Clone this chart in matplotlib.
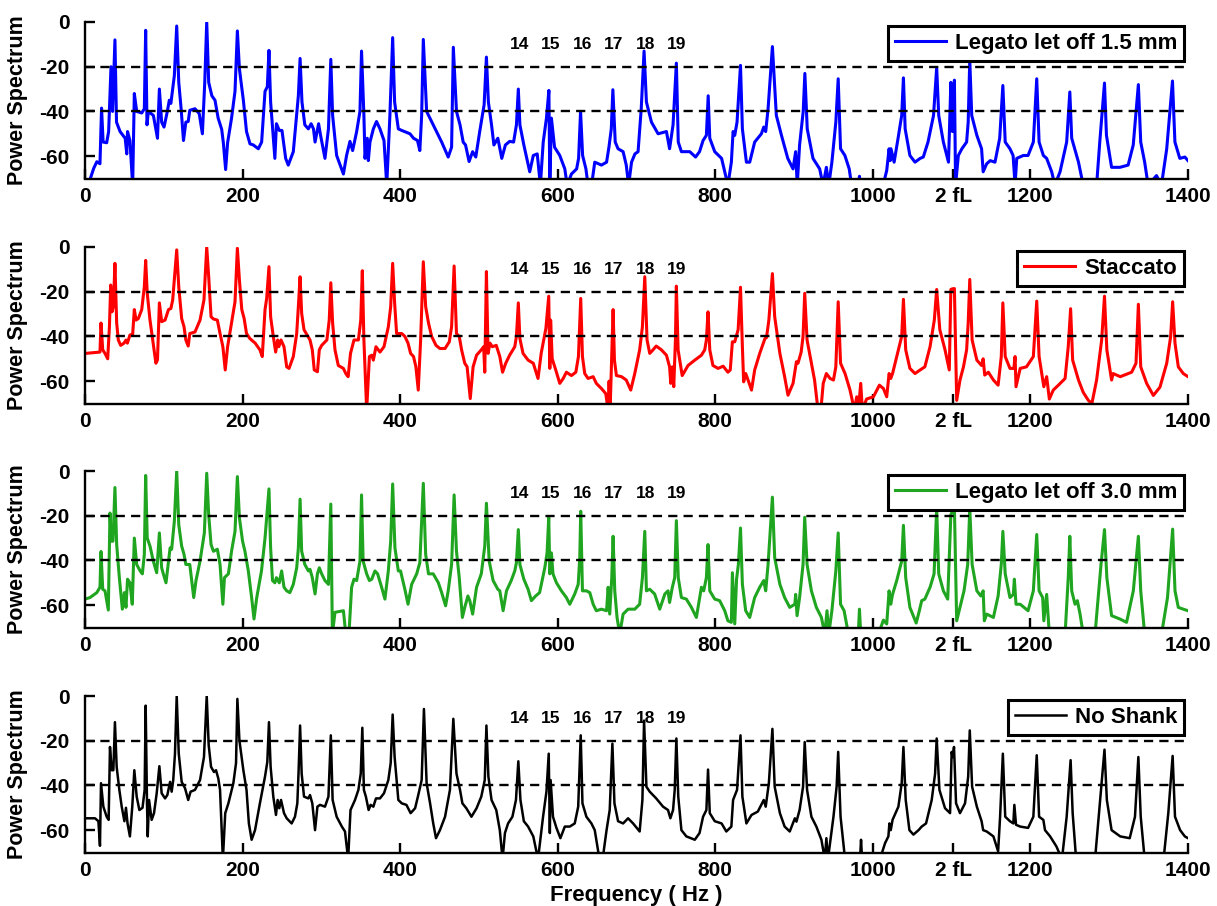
import matplotlib
matplotlib.use('Agg')
import matplotlib.pyplot as plt

plt.rcParams['font.family'] = ['Liberation Sans', 'DejaVu Sans']
plt.rcParams['font.weight'] = 'bold'
plt.rcParams['axes.unicode_minus'] = False

# ---------------- data (frequency Hz, power dB) ----------------
legato15 = [
    (4,-73),(11,-65.5),(15,-62.5),(19,-63.4),(21,-38.5),(23,-53.7),(27.5,-54),(30,-49),(33,-20),(35,-40),(38,-8),
    (40,-44.8),(44.5,-49),(51,-52),(53,-59),(54,-49),(57,-53),(60.5,-73),(62.6,-32),(65.6,-40),(72,-40.7),(75.3,-38.8),
    (77,-3.7),(78.7,-46),(80.4,-40),(86.8,-41.8),(92,-52),(94.4,-30),(97.3,-44.8),(100.3,-47),(104.5,-40),(107,-35),
    (109,-36.4),(113.4,-24),(116.4,-1.8),(119,-27),(122,-38.8),(125,-53),(128,-44.8),(131,-44.5),(133,-39.5),(139.6,-38.8),
    (145,-41),(149,-50),(152,-27),(154.5,0),(157,-27),(161,-33),(165,-35),(169,-43),(173.5,-48),(175.6,-54),(178.5,-66),
    (181,-54),(186,-43),(190.4,-31),(193.4,-4),(196,-21),(201,-35),(205,-49),(209.4,-54.5),(213.6,-55),(220,-56.7),
    (224.2,-53.7),(228.5,-31),(231.4,-29),(233.5,-12.7),(235.6,-35.8),(241,-61),(243,-45.5),(246.6,-48.5),(250,-48.5),
    (254.7,-61),(258,-64),(264.4,-58),(270.8,-33),(273,-16.3),(275.4,-35.8),(279,-46),(283.5,-47.8),(287,-45.5),(290,-47.8),
    (292,-53.7),(296.5,-45.5),(299,-50.7),(304.6,-61),(309,-47.8),(312,-16.7),(314.3,-41.8),(319.4,-59.7),(328,-68),
    (332,-59.7),(336.3,-53.4),(339.7,-57.5),(344.8,-49),(349,-40),(351,-13),(354,-41.8),(355.4,-61),(358.3,-52),(359.6,-62),
    (361.7,-53.7),(366,-47.8),(370,-44.5),(374.4,-47.8),(379.5,-53),(383,-73),(387,-41.8),(390.5,-7),(393,-35.8),
    (397.7,-47.8),(402,-48.5),(412.5,-50),(417,-52),(422,-53),(425,-57.5),(427.3,-41.8),(429.4,-7.8),(433.6,-40),(442,-46),
    (452.7,-53.7),(461,-60.4),(465.3,-56),(467.5,-11.3),(471.5,-40),(476,-46),(480,-53.7),(483,-55),(487.5,-62.4),(492,-58),
    (496,-60.4),(501,-49),(506.6,-37),(509.5,-15.7),(512,-35.8),(516,-46),(519,-55),(524,-52),(529,-61),(533.6,-55),
    (539,-53.4),(544,-53.7),(547.6,-46),(550,-30),(552,-46),(557,-55),(564.5,-67),(569,-59.7),(574,-59),(578,-73),
    (581.6,-53.7),(585.7,-43),(588.8,-30.6),(590,-73),(592,-43),(596,-56),(602.6,-59.7),(609,-65.7),(612,-73),(617.4,-68),
    (624,-65.7),(626.5,-61),(629,-40),(631.6,-59.7),(635.8,-65.7),(638.5,-73),(643,-73),(647,-62.7),(655.5,-64),(662,-62.7),
    (665,-56),(668,-47.8),(670,-30.3),(673,-53.7),(676.6,-56.7),(683,-58),(687,-64),(690,-73),(693.7,-62.7),(698,-59),
    (702,-58),(706,-38.8),(709.6,-13),(712.6,-35.8),(719,-44.8),(727.4,-50),(738,-49),(742,-56.7),(746.4,-46),(750.6,-18.4),
    (753,-53.7),(757,-58),(767.6,-58),(775,-60.4),(780,-58),(784.5,-53),(788.7,-50.7),(791,-33),(793,-52),(799.3,-58),
    (808,-61),(812,-67),(816,-73),(820.4,-62.7),(822.6,-49),(824.7,-50.7),(827.6,-44.8),(832,-19.4),(834.4,-47.8),
    (839.5,-62.7),(843.7,-62.7),(850,-53.7),(858.5,-50),(861.5,-47),(864,-49),(867,-38.8),(872.5,-11),(877.5,-41.8),
    (884,-50.7),(892,-61),(898.7,-65.7),(902,-58),(904,-73),(907,-55),(911.6,-40),(913.7,-23),(916.7,-47.8),(924,-61),
    (932.5,-65.7),(936.8,-73),(941,-65),(944,-73),(948,-62.7),(953,-44.8),(956,-25.4),(959,-56.7),(964.5,-59.7),(970,-65.7),
    (973,-73),(982,-73),(983,-69),(984,-73),(1013,-73),(1017.6,-66.4),(1020.6,-56.7),(1022,-62),(1023,-56.7),(1027,-62.7),
    (1032,-52),(1036.6,-41.8),(1038.8,-25),(1041,-47.8),(1047,-59.7),(1053.5,-62.7),(1060,-61),(1064,-60.4),(1070,-53.7),
    (1077,-41.8),(1081,-20.4),(1083.6,-41.8),(1089.5,-53.7),(1096,-62.7),(1099,-27),(1101,-49),(1103.5,-26),(1105,-73),
    (1108.5,-59.7),(1113,-56.7),(1119,-53.7),(1121,-44.8),(1123,-17),(1125.5,-41.8),(1132,-50.7),(1138,-56.7),(1140,-67),
    (1144.5,-63.4),(1149,-62),(1155,-62.7),(1161,-52),(1165,-28.4),(1168,-53.7),(1174,-56.7),(1178,-59.7),(1180.5,-73),
    (1182.6,-61),(1191,-59.7),(1197,-59.7),(1203.7,-53.7),(1208,-25.4),(1211,-53.7),(1216.4,-59.7),(1220.6,-61),(1227,-67),
    (1231,-73),(1237.6,-67),(1246,-53.7),(1250,-31.3),(1252.4,-52),(1261,-62.7),(1267,-73),(1284,-73),(1288,-53.7),
    (1294,-27.3),(1296.5,-50.7),(1303,-65),(1313.6,-65),(1324,-64),(1330.5,-55),(1337,-28),(1340,-53.7),(1345,-62.7),
    (1349.4,-73),(1360,-68.7),(1366.3,-73),(1373,-56.7),(1380.3,-26.4),(1383.4,-53.7),(1389.6,-61),(1396,-60.4),(1400,-62),
]

staccato = [
    (0,-47.6),(19,-47),(20.3,-34),(22.5,-46),(25.4,-47.6),(28.8,-50),(31,-35.7),(32.6,-17),(34.3,-29),(36,-26.7),(38,-7.3),
    (40.2,-34),(42.3,-41.6),(45.3,-44),(49.5,-43),(52,-41.6),(53.8,-43),(57,-39.4),(60.5,-39),(62.6,-28),(64.8,-32.7),
    (67.7,-32),(72,-28),(75.3,-17.8),(77,-6),(79,-20.7),(82.5,-32.7),(86,-41.6),(90,-52),(92,-50.5),(94.4,-25),(97.3,-33.4),
    (101.6,-32.7),(106,-28),(109,-27.5),(111.3,-23.7),(116.4,-1.3),(119,-17.8),(122.7,-32),(125.7,-35.7),(128,-41.6),
    (131,-44.3),(133,-38.7),(139.6,-38),(146,-32.7),(151,-23.7),(154.5,0),(157,-13.3),(160,-31.2),(163,-32.2),(168,-32.7),
    (171.4,-38.7),(175,-44.6),(178,-55),(181,-44.6),(186,-34),(190.4,-24.5),(193.4,-0.6),(196,-14.8),(199,-28),(202,-32),
    (205,-38.7),(209.4,-41),(216,-43),(222,-46),(225,-49),(228.5,-28),(230.6,-23),(233.5,-8.8),(235.6,-31.2),(239,-40),
    (242,-47),(244.5,-41.6),(246,-44.6),(248.8,-41.6),(252.6,-44.6),(256,-53.6),(259,-54.3),(264.4,-49),(268.7,-38.7),
    (270.8,-26.7),(273,-13.3),(275,-29.7),(278,-37),(281.3,-39),(285.6,-41.6),(288.5,-46),(291,-55),(295,-55.8),(297.4,-46),
    (300.4,-44),(307,-41.6),(310,-32.7),(312,-16),(314.3,-34),(317.3,-46),(321.5,-53),(328,-54.3),(331,-56.6),(334,-58),
    (337,-47.6),(341.4,-41.6),(347,-41.6),(350,-32.7),(352,-10.6),(354,-41.6),(357.5,-73),(361,-49),(364,-48.4),(366,-50.6),
    (369.3,-44.6),(374.4,-47),(379.5,-44.6),(385,-35.7),(388,-26.7),(390.5,-7.3),(393,-25),(395.5,-38.7),(402,-38.7),
    (406,-40),(410,-43),(413.3,-47.6),(417,-49),(420,-53.6),(423,-64),(426,-41.6),(429.4,-6.6),(432.4,-26.7),(436,-34),
    (440,-40),(445.5,-44),(450.5,-45.4),(457,-45.4),(462.4,-42.4),(465.3,-35.7),(468.5,-8.5),(471.5,-38.7),(475,-40),
    (478,-46),(482,-52),(485,-53.6),(489,-67.8),(492.6,-53.6),(497,-48.4),(503,-46),(506,-44.6),(507.4,-56),(509.5,-11),
    (511.6,-47.6),(514,-43),(517,-44.6),(522,-44),(526.5,-49),(530,-56),(534,-52),(539,-48.4),(545.5,-44.6),(547.6,-40),
    (550,-25),(552,-41),(556,-47.6),(562.4,-50.6),(569,-52),(575,-58.8),(579,-47.6),(585,-36.4),(588.6,-22),(590,-54.3),
    (591,-32.7),(593,-50),(597.5,-55),(602.6,-61),(607,-58.8),(611,-56),(617.4,-57.5),(623,-56),(626.3,-49),(629.2,-23),
    (631.4,-49),(634.3,-56.6),(638.5,-58.8),(645,-58),(649,-61),(655.5,-63.3),(661,-65.6),(664,-73),(665.2,-60),(666.5,-73),
    (668.6,-47.6),(670.3,-28),(672,-50.6),(674.5,-57.5),(681,-58),(687,-59.5),(692.7,-64),(697.8,-56.6),(704,-46),
    (707.5,-35.7),(710.5,-13.3),(713.4,-41.6),(716.8,-47.6),(721,-46),(725,-44.3),(731.6,-46),(738,-48.4),(742,-53.6),
    (743.5,-61),(745.6,-53.6),(747.3,-62.5),(749.4,-41.6),(750.6,-17.5),(752.8,-46),(758,-57.5),(765.4,-53),(774,-50.6),
    (782.4,-48.4),(786.6,-46),(788.7,-41.6),(790.8,-29),(793,-46),(797,-53),(803.5,-54.3),(810,-53.3),(816,-56),(819,-55),
    (821.7,-42.4),(824.7,-42.4),(829,-37),(832,-18),(834.4,-44.6),(836,-60.3),(838.6,-56.6),(841.6,-59.5),(846,-64),
    (850,-55),(856.4,-47.6),(863,-41),(865,-40.5),(868,-32.7),(872.5,-11.9),(875.4,-31.2),(882,-47.6),(888,-58),
    (892.3,-66.3),(898.7,-61),(903,-51.3),(905,-52),(909,-47),(911.4,-40),(913.5,-20.7),(916.5,-41.6),(922,-52),(926,-59.5),
    (930.4,-73),(934,-73),(937,-61),(941,-56.6),(945.7,-58.8),(950,-59.5),(953,-53.6),(956,-24.5),(959,-52),(964.7,-56.6),
    (971,-64),(976.6,-73),(979.5,-67),(981.6,-73),(984.6,-61),(986.7,-73),(992,-68),(1000.7,-67),(1008.3,-61.8),
    (1013.4,-63.3),(1017.6,-67),(1020.6,-56.6),(1022.7,-58.8),(1025,-56.6),(1030.3,-49),(1036.6,-40),(1038.8,-23.4),
    (1041.7,-46),(1047,-54.3),(1053.5,-56.6),(1060,-55),(1066,-53.6),(1072.6,-44.6),(1078,-32.7),(1081,-19),(1085,-37),
    (1091.6,-46),(1097,-55),(1099,-19),(1101,-18.7),(1103.5,-18.6),(1106.4,-68.6),(1110.6,-59.5),(1115,-53.6),(1119,-46),
    (1121,-34),(1123,-14.5),(1126,-41.6),(1132,-50.6),(1138,-53),(1140,-50),(1142,-57.3),(1146.6,-56),(1153,-59.5),
    (1159,-61.8),(1163,-49),(1165,-25),(1168,-49),(1174,-54.3),(1179,-54.3),(1180.5,-49),(1181.7,-62.5),(1187,-54.3),
    (1195,-53.6),(1203.7,-49),(1208,-24.2),(1211,-49),(1215,-58),(1217,-62.5),(1220.6,-58),(1224,-68),(1229,-64),
    (1235.5,-61.8),(1244,-58.8),(1248,-44.6),(1251,-27.6),(1253.6,-50.6),(1261,-59.5),(1267,-65),(1273.5,-68.6),(1278,-70),
    (1284,-59.5),(1290.4,-41.6),(1294,-22),(1297,-46),(1303,-59.5),(1305,-56.6),(1314,-58),(1328.5,-56),(1334,-52),
    (1337,-25.6),(1340,-53.6),(1347.5,-61),(1356,-66.4),(1364.4,-62.7),(1373,-52),(1378,-40),(1380.5,-24.5),(1383.5,-43),
    (1387.7,-53.6),(1394,-56.6),(1400,-58),
]

legato30 = [
    (0,-57.3),(6.4,-56.6),(15,-54.4),(19,-52),(20.3,-36),(22.5,-52.9),(25.4,-53.6),(29.6,-62.2),(31.7,-18.8),(33.4,-31.4),
    (35.5,-31.4),(38,-7.4),(40.2,-32.9),(43.6,-47.7),(47.4,-61.8),(50,-54.4),(52,-61),(54,-48.4),(57,-50),(60,-59.6),
    (62.6,-30),(65.6,-41.8),(70,-44.7),(72.8,-46),(75.3,-37.3),(77,-2),(79,-30),(82.5,-33.6),(86.7,-40.3),(91,-45.5),
    (94.4,-27.7),(97.3,-43.3),(99.4,-46),(102.8,-50),(106,-40.3),(108,-34.4),(110,-35),(113.4,-22.5),(116.4,0),(119,-24),
    (122.7,-33.6),(125.7,-37.3),(128,-41.8),(133,-41.8),(138,-56.6),(140.9,-49),(146,-40.3),(151.5,-27.7),(154.5,-1),
    (157,-19.6),(160,-32.9),(163,-35.9),(168,-35),(171.4,-41.8),(175,-59.6),(177,-47.7),(182,-46),(186,-35.9),(190.4,-27),
    (193.4,-2.5),(196,-21),(200,-31.4),(203,-35.9),(207.3,-44.7),(211.5,-56.6),(214.5,-66.2),(218,-56.6),(224,-44.7),
    (228.5,-30),(233.5,-8),(235.6,-34.4),(238,-49),(241,-50),(243,-47.7),(246.6,-50),(249.6,-44.7),(252.6,-52),(256,-53.6),
    (260,-54.4),(264.4,-50.7),(268.7,-43.3),(270.8,-34.4),(273,-12.6),(275,-35.9),(279,-41.8),(283.5,-44.7),(285.6,-44),
    (288.5,-47.7),(292,-55),(295,-46),(297.4,-43.3),(300.4,-46),(304.6,-49),(309,-50.7),(312,-14.8),(314,-73),(317.3,-63.2),
    (328,-62.5),(331,-73),(335,-73),(338.4,-52),(341.4,-48.4),(344.8,-49),(349,-40.3),(351,-10.7),(353,-40.3),(357.5,-46),
    (361,-49),(364,-48.4),(368,-44.7),(371.4,-46),(376.5,-52),(380.7,-57.3),(385,-44.7),(388,-31.4),(390.5,-5.8),
    (393.4,-34.4),(397.7,-44.7),(400.5,-44.7),(403,-48.4),(406,-52.9),(410,-59.6),(414.6,-50.7),(421,-46),(425,-41),
    (429.4,-5.5),(432.4,-37.3),(436,-46),(442,-46),(448.5,-50),(452.7,-54.4),(457.7,-60.3),(461,-53.6),(465.3,-41.8),
    (468.5,-10.7),(471.5,-35.9),(475,-47.7),(479,-65.5),(482,-61),(486,-55.9),(488.4,-58),(492,-64),(497,-52),(503,-46),
    (507.4,-33.6),(509.5,-14.4),(513,-40.3),(518,-49),(524,-52.9),(526.5,-53.6),(530.7,-62.5),(535,-53.6),(541,-49),
    (545.5,-44.7),(547.6,-41),(550,-26.2),(552,-41.8),(557,-48.4),(562.4,-52.9),(566.6,-58),(572,-55.9),(577,-54.4),
    (583.6,-43.3),(586.5,-36.6),(588.6,-20.7),(590,-46),(592,-36.6),(594,-46),(598.4,-50),(604.7,-53.6),(611,-56.6),
    (615.3,-59.6),(621.6,-55),(626,-50.7),(628,-38.8),(629.2,-18),(631.4,-53.6),(636.4,-53.6),(640.7,-54.4),(645,-59.6),
    (649,-62.5),(655.5,-61.8),(662,-62.5),(664,-52),(666,-64),(668.6,-47.7),(670.3,-29.2),(672.4,-53.6),(675.3,-65.5),
    (678.7,-73),(683,-64),(689.3,-61.8),(697.8,-61.8),(704,-59.6),(707.5,-47.7),(710.5,-27),(712.6,-53.6),(716.8,-52.9),
    (723,-55),(729.5,-61.8),(736,-55),(740,-53.6),(742,-58.8),(745.5,-52),(748.5,-47.7),(750.6,-22.2),(753,-47.7),
    (757,-56.6),(763.3,-57.3),(769.7,-61),(776,-65.5),(782.4,-52),(785.3,-53.6),(788.7,-47.7),(790.8,-32.9),(793,-53.6),
    (799.3,-57.3),(805.6,-58),(812,-62.5),(816,-67),(820.4,-67.7),(821.7,-45.5),(824.7,-68.4),(827,-48.4),(829.3,-41.8),
    (832,-25.5),(834.4,-50.7),(838.6,-62.5),(843.7,-65.5),(850,-56.6),(856.4,-52),(861.5,-49),(864,-53.6),(867,-41.8),
    (872.5,-11.7),(875.4,-38.8),(882,-50.7),(888,-56.6),(894.5,-61),(901,-59.6),(902,-55.2),(903.8,-64.7),(907,-56.6),
    (911.4,-41.8),(913.5,-20.7),(916.5,-41.8),(922,-53.6),(928.3,-61),(934.7,-65.5),(939,-73),(941.8,-62.5),(944,-73),
    (948,-62.5),(953,-44.7),(956,-27.7),(959,-59.6),(963.5,-62.5),(969,-73),(981.5,-73),(983,-61.8),(984.6,-73),(1007,-73),
    (1013.4,-66.7),(1017.6,-68.4),(1020.6,-53.6),(1022.7,-59.6),(1025,-55.2),(1030.3,-49),(1036.6,-40.3),(1038.8,-24.3),
    (1041.7,-47.7),(1047,-61),(1055,-68),(1059,-62.5),(1062,-58),(1066,-57.3),(1072.6,-52),(1077.7,-46),(1081,-16.6),
    (1083.6,-46),(1089.5,-53.6),(1095,-57.3),(1099,-19.6),(1101,-18),(1103.5,-16.6),(1106.4,-67),(1110.6,-61),
    (1115.7,-53.6),(1120.4,-41.8),(1123,-16.6),(1126,-41.8),(1132,-53.6),(1137,-55.9),(1140,-53.6),(1141.5,-67),
    (1144.5,-64),(1153,-65.5),(1159,-55.9),(1163,-41.8),(1165,-27),(1168,-46),(1174,-56.6),(1178.3,-55.2),(1179.6,-48.4),
    (1181.7,-59.6),(1187,-59.6),(1197,-62.5),(1203.7,-53.6),(1208,-28.4),(1211,-53.6),(1215.5,-56.6),(1217,-67),
    (1220.6,-55.2),(1224,-73),(1244,-73),(1248,-47.7),(1250,-29.2),(1252.4,-53.6),(1256.6,-59.6),(1259.6,-58),(1263,-64),
    (1267,-73),(1282,-73),(1289.6,-41.8),(1294,-26.2),(1297,-47.7),(1303,-64.7),(1313.6,-66.2),(1322,-67.7),(1330.6,-53.6),
    (1337,-29.2),(1340,-53.6),(1345,-73),(1366.4,-73),(1374,-56.6),(1380.5,-26),(1383.5,-53.6),(1387.7,-61),(1394,-61.8),
    (1400,-62.5),
]

no_shank = [
    (0,-54.7),(12.7,-54.7),(17,-56),(19,-67),(20.3,-39),(23.3,-49.5),(27.5,-54),(30,-55.4),(31.7,-22.8),(33.9,-33.2),
    (36,-33.2),(38,-11.7),(40.2,-31.7),(43.6,-42),(46.6,-49.5),(50,-56),(52,-50),(54,-57),(57,-62.8),(60,-49.5),(62.6,-33.2),
    (65.6,-45),(69,-51),(73,-50),(75.7,-42),(77,-4.3),(78.7,-48),(79.6,-62.8),(81.3,-46.5),(84.6,-55.4),(87.6,-52.4),
    (91,-43.5),(94.4,-31.4),(97.3,-43.5),(101.6,-45.8),(104.5,-44.3),(108,-38.4),(110,-42.8),(112,-37.6),(114.2,-25.8),
    (116.4,0),(119,-25.8),(122.7,-38.4),(127,-41.3),(131,-46.5),(134,-42.8),(139.6,-42),(146,-37.6),(151,-27.3),(154.5,0),
    (157,-22),(160,-31.7),(163.7,-34),(166.3,-33.2),(169.2,-36.9),(171.4,-42),(175,-73),(178,-52.4),(182,-48),(188.3,-39),
    (191.7,-30),(193.4,-1.3),(196,-19.9),(201,-33.2),(205,-42),(208,-57),(211.5,-64.3),(215.8,-60),(222,-48),(228.5,-36),
    (231.4,-29.5),(233.5,-11.7),(235.6,-31.7),(239,-45),(242.4,-53.2),(244.5,-46.5),(246.6,-50.2),(248.8,-46.5),
    (252.6,-52.4),(256,-54.7),(262.3,-57),(266.5,-54),(269.5,-48),(271,-34.7),(273,-13.2),(275,-34.7),(278,-45),
    (283.5,-45.8),(285.6,-44.3),(288.5,-48),(292,-60),(295,-49.5),(298.3,-48.7),(304.6,-49.5),(309,-45),(312,-17.6),
    (314.3,-46.5),(319.4,-54),(326,-58.4),(330,-60.6),(334,-73),(337,-51),(342.7,-46.5),(347,-42),(350,-34.7),(352,-14.2),
    (354,-42),(356.5,-45),(360,-51),(362.5,-48.7),(366,-49.5),(369.3,-45.8),(374.4,-45.8),(379.5,-43.5),(385,-37.6),
    (388,-30),(390.5,-8.3),(393,-27.3),(397.7,-46.5),(402,-48),(408,-48.7),(413.3,-52.4),(419,-50.2),(423,-44.3),
    (427.3,-37.6),(430.2,-5.8),(433.6,-39),(438,-48),(442,-57),(445.5,-63.6),(450.5,-60),(457,-54),(463.2,-42),(467.5,-10.2),
    (471.5,-34.7),(476,-42),(479,-48),(484,-50.2),(490.5,-54),(497,-50.2),(503,-45),(507.4,-37.6),(509.5,-13.2),(512,-36),
    (516,-46.5),(522,-51),(526.5,-60),(530,-73),(533,-61.3),(537,-57),(542.5,-54),(547,-46.5),(550,-29.2),(552.7,-46.5),
    (557,-56),(562.4,-58.4),(569,-62.8),(575,-73),(581.4,-54),(585.7,-42.8),(588.6,-25.8),(590,-61.3),(591,-37.6),(594,-54),
    (598.4,-59),(603.4,-63.6),(609,-58.4),(615.3,-58.4),(621.6,-57),(626,-49.5),(629.2,-17.6),(631.4,-48),(636.4,-54),
    (642.8,-57),(647,-60),(653,-73),(657,-73),(662,-60),(666,-51),(669.4,-21.3),(672,-48),(676.6,-56),(683,-57),
    (689.3,-54.7),(695.7,-57),(704,-60.6),(707.5,-46.5),(709.6,-11),(712.6,-40.6),(716.8,-42.8),(725,-45.8),(733.7,-49.5),
    (740,-51),(743,-54.7),(746.4,-51),(748.5,-42),(750.6,-19),(753,-45),(757,-60),(763.3,-62.8),(774,-64.3),(780,-61.3),
    (784.5,-54),(788.7,-51),(790.8,-32.9),(793,-52.4),(799.3,-56),(808,-57),(814,-60.6),(820.4,-58.4),(822.6,-46.5),
    (827.6,-42),(832,-17.6),(834.4,-45),(839.5,-57),(846,-53.2),(854,-51.7),(861.5,-46.5),(864,-49.5),(868,-39),
    (872.5,-14.7),(875.4,-40.6),(882,-52.4),(888,-58.4),(894.5,-60.6),(901,-54.7),(903,-56.2),(907,-51),(911.4,-40.6),
    (913.5,-20.6),(916.5,-42),(922,-54),(928.3,-58.4),(934.7,-64.3),(939,-73),(941,-63.6),(943,-73),(950,-54),(954,-40.6),
    (956,-25),(959,-54),(964.7,-73),(983.7,-73),(985,-64.3),(986.3,-73),(1009,-73),(1015.5,-65.8),(1019.7,-62.8),(1021,-57),
    (1022.7,-60),(1025,-55.4),(1032.4,-49.5),(1036.6,-39),(1038.8,-22.8),(1041.7,-46.5),(1046.4,-60),(1051.5,-62),
    (1058,-60),(1062,-58.4),(1067.5,-57),(1074.7,-46.5),(1079,-34.7),(1081,-19),(1084.5,-42),(1091.6,-50.2),(1098,-52.4),
    (1100,-25),(1101.3,-27.3),(1103,-22.8),(1105.6,-48),(1110.6,-52.4),(1117,-48),(1121,-36),(1123,-15.4),(1126,-40.6),
    (1132,-49.5),(1138,-56),(1140,-60),(1144.5,-60.6),(1153,-62.8),(1159,-69.5),(1161.5,-54),(1165,-25.8),(1168,-54),
    (1174,-56),(1178.3,-57),(1179.6,-48.7),(1181.7,-57.6),(1187,-58.4),(1197,-59),(1203.7,-54),(1208,-26.5),(1211,-54),
    (1216.4,-55.4),(1218.5,-60),(1225,-62.8),(1233,-67.3),(1240,-73),(1246,-54),(1251,-28.7),(1253.6,-52.4),(1258,-73),
    (1282,-73),(1289.6,-42),(1294,-24),(1297,-46.5),(1303,-60),(1314,-62.8),(1326,-63.6),(1332.7,-54),(1337,-27.3),
    (1340,-54),(1345,-73),(1369,-73),(1375,-52.4),(1380.5,-26.8),(1383.5,-54),(1390,-60),(1396,-62.8),(1400,-63.6),
]

series_data = [legato15, staccato, legato30, no_shank]
series_names = ['Legato let off 1.5 mm', 'Staccato', 'Legato let off 3.0 mm', 'No Shank']
series_colors = ['#0000ff', '#ff0000', '#1fa51f', '#000000']
series_widths = [2.2, 2.2, 2.2, 1.8]

harmonic_labels = ['14', '15', '16', '17', '18', '19']
harmonic_label_hz = [552, 591, 632, 671, 711, 751]
harmonic_label_db = -10

xtick_values = [0, 200, 400, 600, 800, 1000, 1102, 1200, 1400]
xtick_labels = ['0', '200', '400', '600', '800', '1000', '2 fL', '1200', '1400']
ytick_values = [-60, -40, -20, 0]
ref_levels = [-20, -40]

# ---------------- figure ----------------
W, H = 1217, 906
fig = plt.figure(figsize=(W / 100, H / 100), dpi=100)
left_px, right_px = 85, 1188
tops_px = [22, 247, 471, 696]
h_px = 156.5

for i, (data, name, col, lw) in enumerate(zip(series_data, series_names, series_colors, series_widths)):
    top = tops_px[i]
    ax = fig.add_axes([left_px / W, 1 - (top + h_px) / H, (right_px - left_px) / W, h_px / H])
    hz = [p[0] for p in data]
    db = [p[1] for p in data]
    ax.plot(hz, db, color=col, lw=lw, label=name, zorder=2)
    for lev in ref_levels:
        ax.axhline(lev, color='black', lw=1.7, ls=(0, (3.9, 2.6)), zorder=3)
    for lab, fx in zip(harmonic_labels, harmonic_label_hz):
        ax.text(fx, harmonic_label_db, lab, ha='center', va='center', fontsize=12.5,
                fontweight='bold', zorder=4)
    ax.set_xlim(0, 1400)
    ax.set_ylim(-70, 0)
    ax.set_xticks(xtick_values)
    ax.set_xticklabels(xtick_labels)
    ax.set_yticks(ytick_values)
    ax.set_yticklabels([str(v) for v in ytick_values])
    for s in ['top', 'right']:
        ax.spines[s].set_visible(False)
    for s in ['left', 'bottom']:
        ax.spines[s].set_linewidth(1.7)
    ax.tick_params(axis='both', direction='in', length=7, width=1.7, labelsize=15)
    ax.tick_params(axis='x', pad=6)
    ax.tick_params(axis='y', pad=11)
    for t in ax.get_xticklabels() + ax.get_yticklabels():
        t.set_fontweight('bold')
    ax.set_ylabel('Power Spectrum', fontsize=15.5, fontweight='bold')
    ax.yaxis.set_label_coords(-0.052, 0.5)
    leg = ax.legend(loc='upper right', fontsize=16, frameon=True, fancybox=False,
                    edgecolor='black', framealpha=1, borderaxespad=0.2, borderpad=0.3,
                    handlelength=2.3, handletextpad=0.4)
    leg.get_frame().set_linewidth(2.2)
    leg.set_zorder(10)
    for t in leg.get_texts():
        t.set_fontweight('bold')
    if i == 3:
        ax.set_xlabel('Frequency ( Hz )', fontsize=16, fontweight='bold', labelpad=4)

fig.savefig('out.png', dpi=100)
